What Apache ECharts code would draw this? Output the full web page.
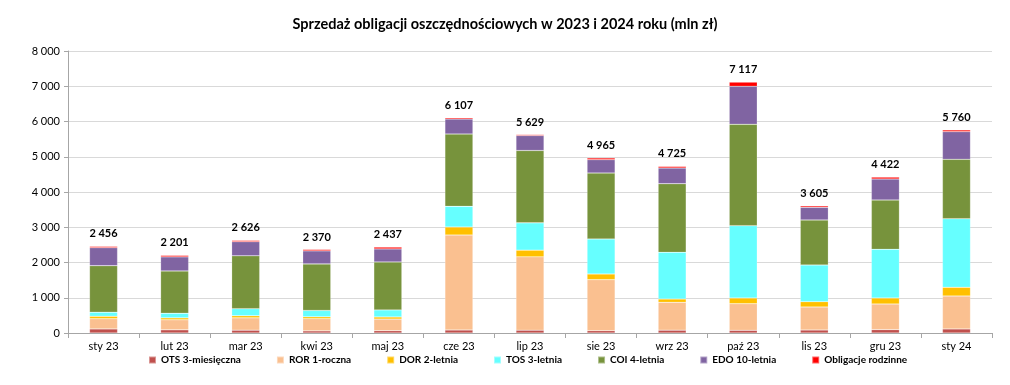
<!DOCTYPE html>
<html><head><meta charset="utf-8">
<script src="https://cdn.jsdelivr.net/npm/echarts@6/dist/echarts.min.js"></script>
<style>html,body{margin:0;padding:0;background:#fff}#c{width:1010px;height:385px}</style>
</head><body><div id="c"></div>
<script>
const categories = ['sty 23','lut 23','mar 23','kwi 23','maj 23','cze 23','lip 23','sie 23','wrz 23','paź 23','lis 23','gru 23','sty 24'];
const ots    = [115, 90, 80, 60, 65, 85, 80, 66, 80, 76, 85, 95, 115];
const ror    = [290, 285, 350, 345, 330, 2695, 2080, 1447, 790, 756, 653, 728, 935];
const dor    = [70, 55, 60, 55, 60, 227, 190, 161, 95, 161, 151, 170, 246];
const tos    = [115, 130, 200, 180, 200, 586, 775, 993, 1323, 2052, 1040, 1381, 1947];
const coi    = [1320, 1200, 1500, 1320, 1360, 2052, 2052, 1872, 1948, 2875, 1277, 1399, 1684];
const edo    = [510, 400, 400, 370, 370, 426, 425, 378, 445, 1078, 359, 596, 785];
const family = [36, 41, 36, 40, 52, 36, 27, 48, 44, 119, 40, 53, 48];
const totals = [2456, 2201, 2626, 2370, 2437, 6107, 5629, 4965, 4725, 7117, 3605, 4422, 5760];
const yTicks = [0, 1000, 2000, 3000, 4000, 5000, 6000, 7000, 8000];

const fmt = v => String(v).replace(/\B(?=(\d{3})+(?!\d))/g, ' ');
const FONT = 'Lato, "Open Sans", sans-serif';
const names = ['OTS 3-miesięczna','ROR 1-roczna','DOR 2-letnia','TOS 3-letnia','COI 4-letnia','EDO 10-letnia','Obligacje rodzinne'];
const colors = ['#C0504D','#FAC090','#FFC000','#66FFFF','#77933C','#8064A2','#FF0000'];
const datas = [ots, ror, dor, tos, coi, edo, family];

const series = datas.map((d, i) => ({
  name: names[i], type: 'bar', stack: 'total', data: d, barWidth: 28,
  itemStyle: { color: colors[i], borderColor: 'rgba(255,255,255,0.4)', borderWidth: 0.5 },
  emphasis: { disabled: true },
  label: i === 6 ? {
    show: true, position: 'top', distance: 7,
    formatter: p => fmt(totals[p.dataIndex]),
    fontFamily: FONT, fontWeight: 'bold', fontSize: 11, color: '#000'
  } : { show: false }
}));

const chart = echarts.init(document.getElementById('c'), null, { renderer: 'canvas' });
chart.setOption({
  animation: false,
  title: {
    text: 'Sprzedaż obligacji oszczędnościowych w 2023 i 2024 roku (mln zł)',
    left: 'center', top: 12,
    textStyle: { fontFamily: FONT, fontWeight: 'bold', fontSize: 14.5, color: '#000' }
  },
  legend: {
    bottom: 15, left: 143, itemWidth: 7, itemHeight: 7, itemGap: 35,
    icon: 'rect',
    textStyle: { fontFamily: FONT, fontSize: 10, color: '#000', fontWeight: 'bold' },
    data: names
  },
  grid: { left: 68, right: 18, top: 51, bottom: 52 },
  xAxis: {
    type: 'category', data: categories,
    axisLine: { lineStyle: { color: '#A6A6A6' } },
    axisTick: { show: true, alignWithLabel: false, length: 5, lineStyle: { color: '#A6A6A6' } },
    axisLabel: { fontFamily: FONT, fontSize: 11, color: '#000', margin: 8 }
  },
  yAxis: {
    type: 'value', min: 0, max: 8000, interval: 1000,
    axisLine: { show: true, lineStyle: { color: '#A6A6A6' } },
    axisTick: { show: true, length: 4, lineStyle: { color: '#A6A6A6' } },
    splitLine: { lineStyle: { color: '#D9D9D9' } },
    axisLabel: { fontFamily: FONT, fontSize: 11, color: '#000', margin: 8,
      formatter: v => yTicks.includes(v) ? fmt(v) : '' }
  },
  series
});
</script></body></html>
